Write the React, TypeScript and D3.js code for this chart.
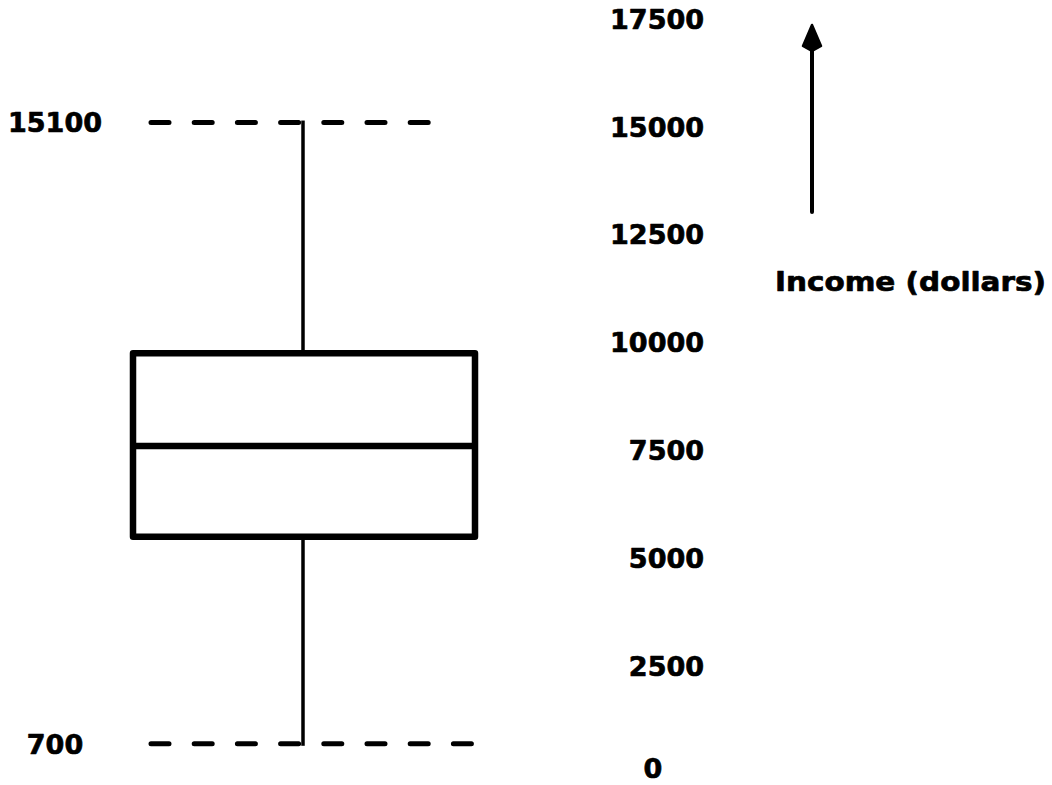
import React, { useEffect, useRef } from 'react'
import * as d3 from 'd3'

// five-number summary of income (dollars)
const summaryKeys = ['min', 'q1', 'median', 'q3', 'max']
const summaryValues = [700, 5500, 7600, 9750, 15100]
const tickValues = [0, 2500, 5000, 7500, 10000, 12500, 15000, 17500]
const axisTitle = 'Income (dollars)'

const W = 1052
const H = 785
const FONT = '"DejaVu Sans", sans-serif'

function addText(sel: any) {
    return sel
        .attr('font-family', FONT)
        .attr('font-weight', 'bold')
        .attr('font-size', 27)
        .attr('fill', '#000')
        .attr('stroke', '#000')
        .attr('stroke-width', 0.7)
        .attr('stroke-linejoin', 'round')
}

function drawBox(el: SVGSVGElement) {
    const svg = d3.select(el)
    svg.selectAll('*').remove()

    const s: Record<string, number> = {}
    summaryKeys.forEach((k, i) => { s[k] = summaryValues[i] })

    const y = d3.scaleLinear().domain([0, 17500]).range([774, 19])

    const boxCx = 304
    const boxHalf = 171

    // dashed reference lines at the whisker ends
    const dashes = [
        { v: s.max, x2: 432 },
        { v: s.min, x2: 474 },
    ]
    svg.selectAll('line.ref')
        .data(dashes)
        .enter()
        .append('line')
        .attr('class', 'ref')
        .attr('x1', 151)
        .attr('x2', d => d.x2)
        .attr('y1', d => y(d.v))
        .attr('y2', d => y(d.v))
        .attr('stroke', '#000')
        .attr('stroke-width', 5)
        .attr('stroke-linecap', 'round')
        .attr('stroke-dasharray', '18 25.2')

    // whiskers
    const g = svg.append('g')
    g.append('line')
        .attr('x1', boxCx - 1).attr('x2', boxCx - 1)
        .attr('y1', y(s.max) - 2).attr('y2', y(s.q3))
        .attr('stroke', '#000').attr('stroke-width', 3.5)
    g.append('line')
        .attr('x1', boxCx - 1).attr('x2', boxCx - 1)
        .attr('y1', y(s.q1)).attr('y2', y(s.min) + 2)
        .attr('stroke', '#000').attr('stroke-width', 3.5)

    // box
    g.append('rect')
        .attr('x', boxCx - boxHalf)
        .attr('y', y(s.q3))
        .attr('width', boxHalf * 2)
        .attr('height', y(s.q1) - y(s.q3))
        .attr('fill', 'none')
        .attr('stroke', '#000')
        .attr('stroke-width', 6.5)
        .attr('stroke-linejoin', 'round')
    g.append('line')
        .attr('x1', boxCx - boxHalf).attr('x2', boxCx + boxHalf)
        .attr('y1', y(s.median)).attr('y2', y(s.median))
        .attr('stroke', '#000').attr('stroke-width', 6.5)

    // labels for min / max
    addText(svg.selectAll('text.end')
        .data([s.max, s.min])
        .enter()
        .append('text')
        .attr('class', 'end')
        .attr('x', 55)
        .attr('y', (d: number) => y(d))
        .attr('dy', '0.36em')
        .attr('text-anchor', 'middle'))
        .text((d: number) => String(d))

    // scale numbers (the 0 sits a touch higher so it stays on the page)
    addText(svg.selectAll('text.tick')
        .data(tickValues)
        .enter()
        .append('text')
        .attr('class', 'tick')
        .attr('x', (d: number) => d === 0 ? 653 : 704)
        .attr('y', (d: number) => y(d))
        .attr('dy', (d: number) => d === 0 ? '0.14em' : '0.36em')
        .attr('text-anchor', (d: number) => d === 0 ? 'middle' : 'end'))
        .text((d: number) => String(d))

    // arrow pointing up
    svg.append('line')
        .attr('x1', 812).attr('x2', 812)
        .attr('y1', 212).attr('y2', 46)
        .attr('stroke', '#000').attr('stroke-width', 4)
        .attr('stroke-linecap', 'round')
    svg.append('path')
        .attr('d', 'M812,25 L821,46 L812,51 L803,46 Z')
        .attr('fill', '#000')
        .attr('stroke', '#000')
        .attr('stroke-width', 2.5)
        .attr('stroke-linejoin', 'round')

    addText(svg.append('text')
        .attr('x', 775)
        .attr('y', 281)
        .attr('dy', '0.36em')
        .attr('textLength', 271)
        .attr('lengthAdjust', 'spacingAndGlyphs'))
        .text(axisTitle)
}

const App = () => {
    const ref = useRef<SVGSVGElement>(null)
    useEffect(() => {
        if (ref.current) drawBox(ref.current)
    }, [])

    return (
        <svg
            ref={ref}
            width={W}
            height={H}
            style={{ position: 'absolute', left: 0, top: 0, background: '#fff' }}
        />
    )
}

export default App
